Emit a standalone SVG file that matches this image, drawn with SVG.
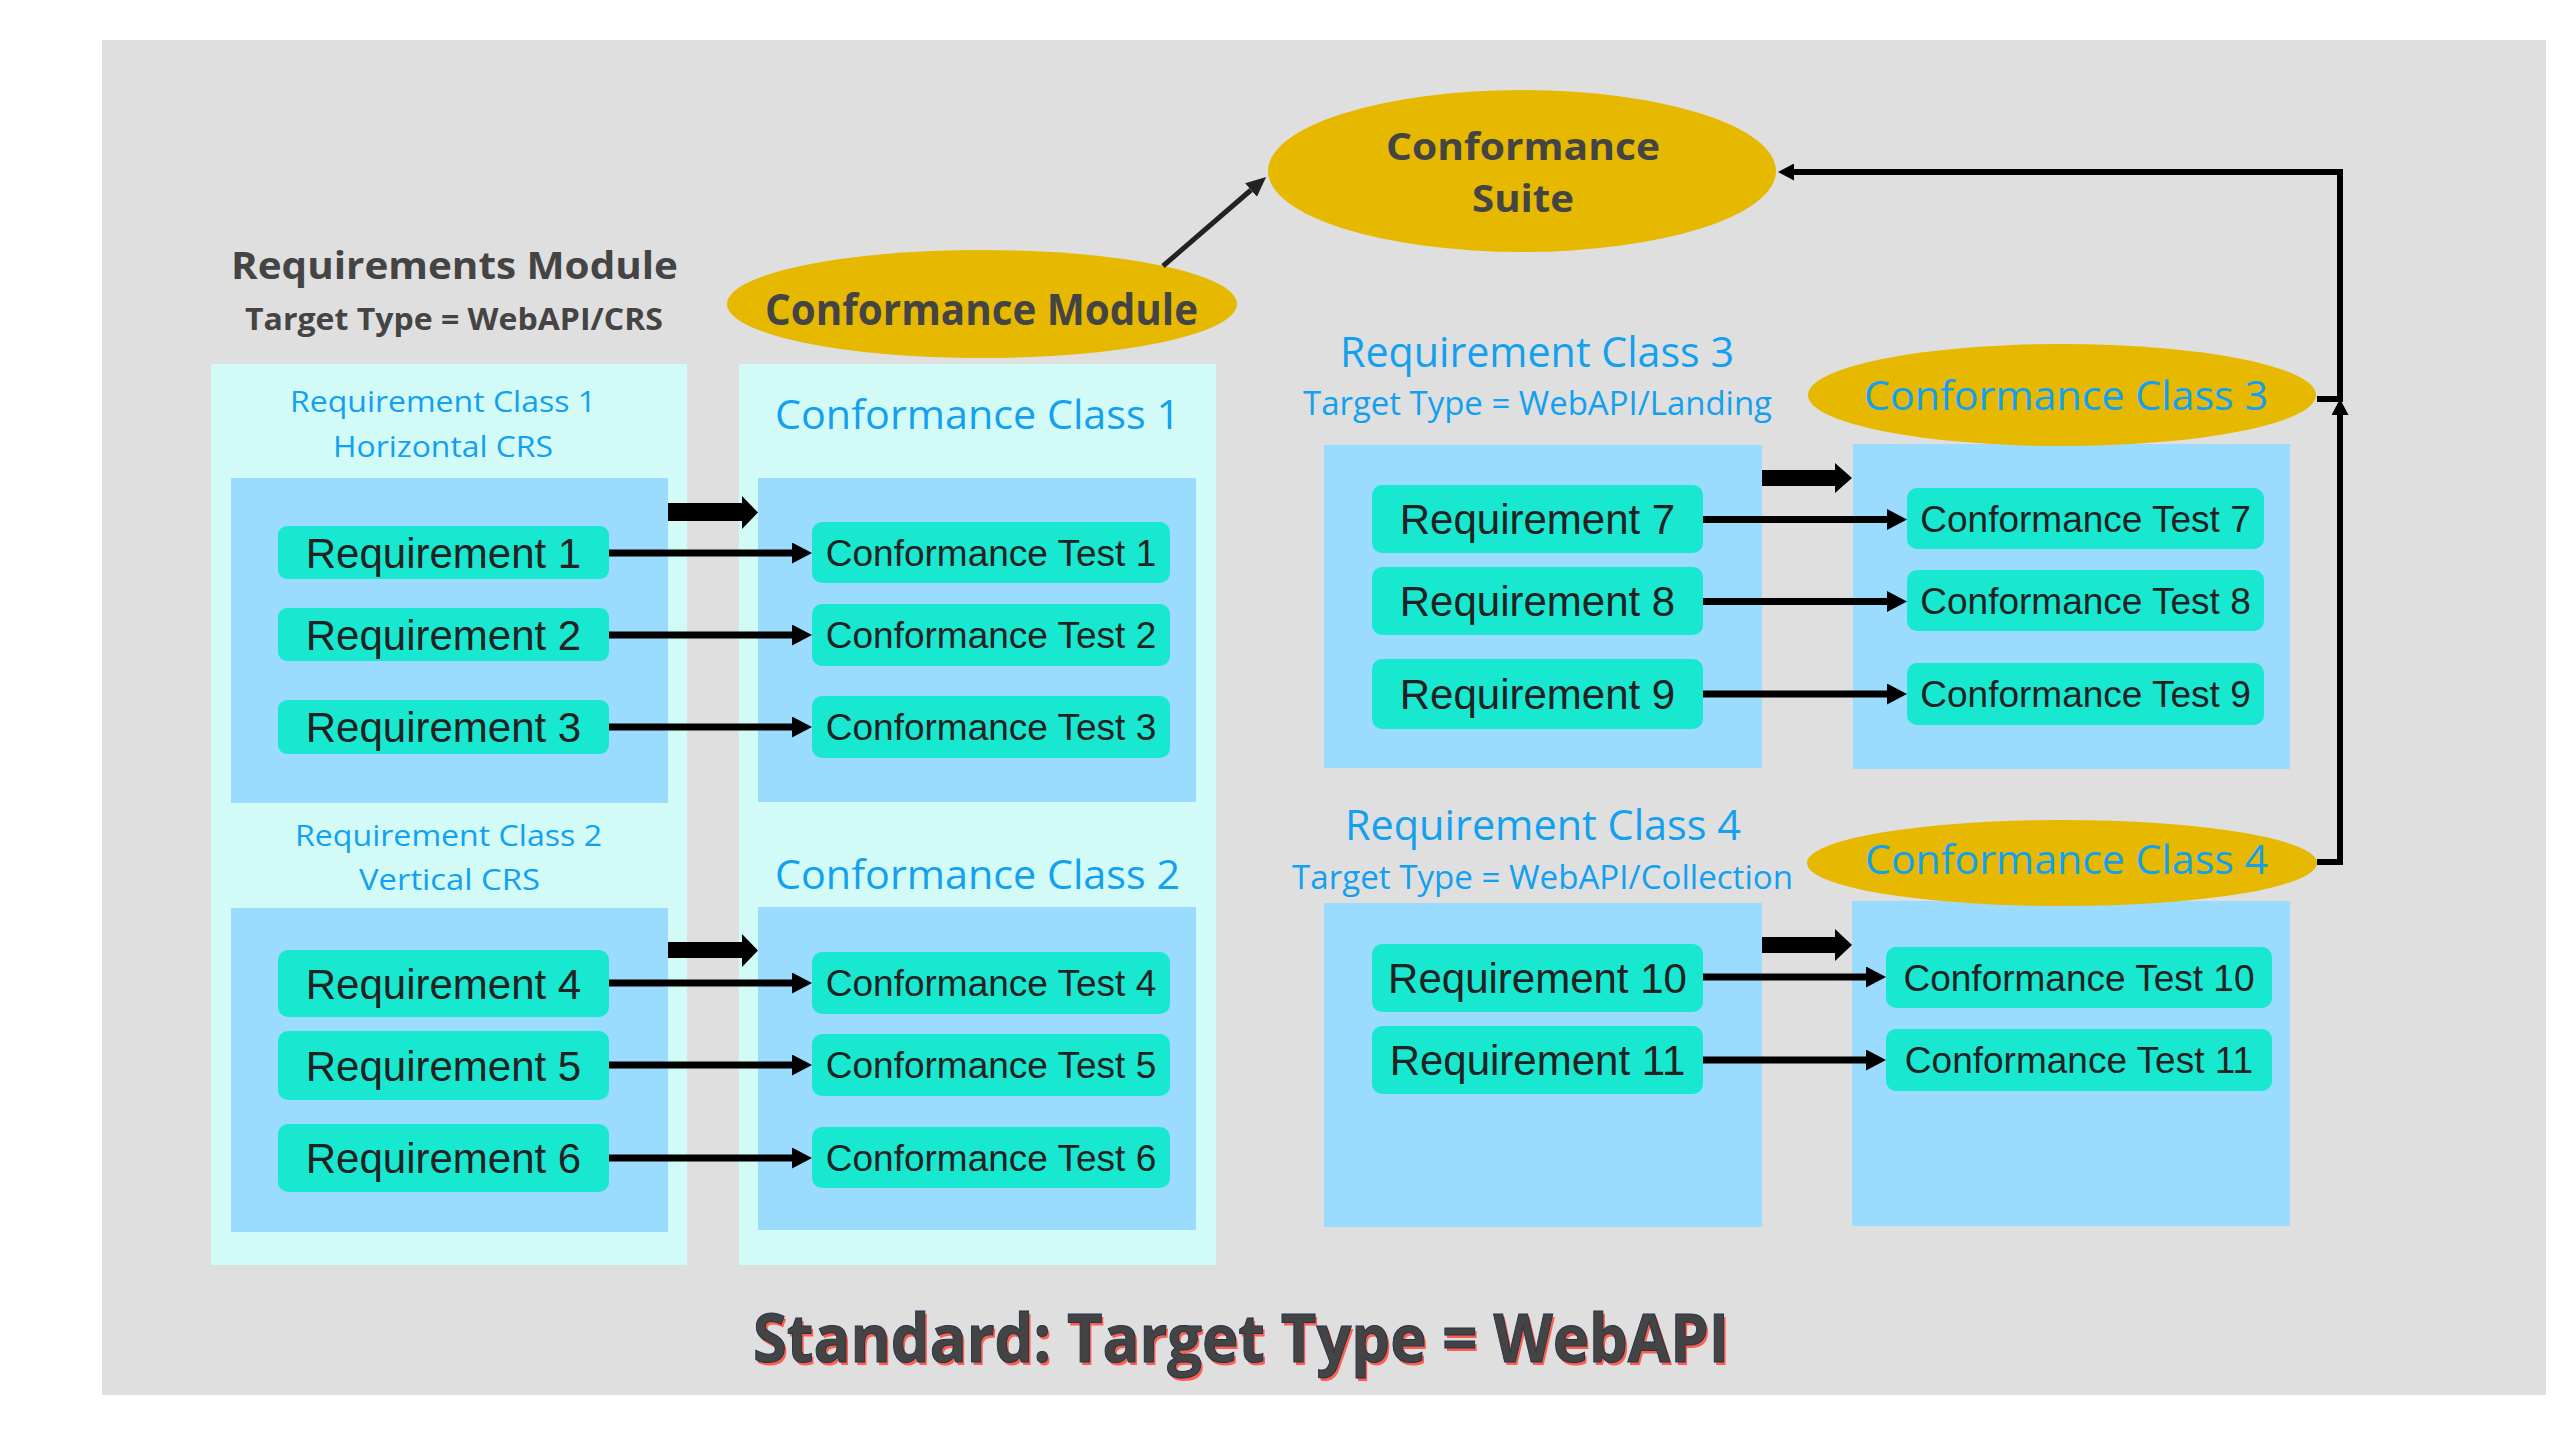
<svg xmlns="http://www.w3.org/2000/svg" width="2560" height="1440" viewBox="0 0 2560 1440">
<defs>
<style>
.bg{fill:#DFDFDF}
.outer{fill:#D2FAF6}
.inner{fill:#9BDBFD}
.box{fill:#17E8CF}
.gold{fill:#E6B900}
.rt{font-family:"Liberation Sans",Arial,sans-serif;font-size:42px;fill:#222;text-anchor:middle}
.ct{font-family:"Liberation Sans",Arial,sans-serif;font-size:37px;fill:#222;text-anchor:middle}
.blue{font-family:"Open Sans","Noto Sans",sans-serif;fill:#12A0F0;text-anchor:middle}
.dk{font-family:"Open Sans","Noto Sans",sans-serif;font-weight:bold;fill:#444;text-anchor:middle}
.ln{stroke:#000;stroke-width:7;fill:none}
.cn{stroke:#000;stroke-width:6;fill:none}
.blk{fill:#000}
</style>
<marker id="ah" markerUnits="userSpaceOnUse" markerWidth="20" markerHeight="21" refX="0" refY="10.5" orient="auto"><path d="M0,0 L20,10.5 L0,21 z" fill="#000"/></marker>
<marker id="ah2" markerUnits="userSpaceOnUse" markerWidth="16" markerHeight="17" refX="0" refY="8.5" orient="auto"><path d="M0,0 L16,8.5 L0,17 z" fill="#000"/></marker>
<marker id="ah3" markerUnits="userSpaceOnUse" markerWidth="20" markerHeight="18" refX="0" refY="9" orient="auto"><path d="M0,0 L20,9 L0,18 z" fill="#222"/></marker>
</defs>
<rect x="0" y="0" width="2560" height="1440" fill="#fff"/>
<rect class="bg" x="102" y="40" width="2444" height="1355"/>

<g id="requirements-module">
<rect class="outer" x="211" y="364" width="476" height="901"/>
<text class="dk" x="454.5" y="279" font-size="38" textLength="447" lengthAdjust="spacingAndGlyphs">Requirements Module</text>
<text class="dk" x="454" y="330" font-size="31" textLength="418" lengthAdjust="spacingAndGlyphs">Target Type = WebAPI/CRS</text>
</g>
<g id="conformance-module-box">
<rect class="outer" x="739" y="364" width="477" height="901"/>
</g>

<g id="requirement-class-1">
<text class="blue" x="443" y="412" font-size="30" textLength="306" lengthAdjust="spacingAndGlyphs">Requirement Class 1</text>
<text class="blue" x="443" y="457" font-size="30" textLength="220" lengthAdjust="spacingAndGlyphs">Horizontal CRS</text>
<rect class="inner" x="231" y="478" width="437" height="325"/>
</g>
<g id="conformance-class-1">
<text class="blue" x="977.5" y="429" font-size="40" textLength="405" lengthAdjust="spacingAndGlyphs">Conformance Class 1</text>
<rect class="inner" x="758" y="478" width="438" height="324"/>
</g>
<g id="requirement-class-2">
<text class="blue" x="448.5" y="846" font-size="30" textLength="307" lengthAdjust="spacingAndGlyphs">Requirement Class 2</text>
<text class="blue" x="449.5" y="890" font-size="30" textLength="181" lengthAdjust="spacingAndGlyphs">Vertical CRS</text>
<rect class="inner" x="231" y="908" width="437" height="324"/>
</g>
<g id="conformance-class-2">
<text class="blue" x="977.5" y="889" font-size="40" textLength="405" lengthAdjust="spacingAndGlyphs">Conformance Class 2</text>
<rect class="inner" x="758" y="907" width="438" height="323"/>
</g>
<g id="requirement-class-3">
<text class="blue" x="1537" y="367" font-size="42" textLength="394" lengthAdjust="spacingAndGlyphs">Requirement Class 3</text>
<text class="blue" x="1537.5" y="415" font-size="32" textLength="469" lengthAdjust="spacingAndGlyphs">Target Type = WebAPI/Landing</text>
<rect class="inner" x="1324" y="445" width="438" height="323"/>
</g>
<g id="conformance-class-3">
<rect class="inner" x="1853" y="444" width="437" height="325"/>
<ellipse class="gold" cx="2062" cy="395" rx="254" ry="51"/>
<text class="blue" x="2066" y="410" font-size="41" textLength="404" lengthAdjust="spacingAndGlyphs">Conformance Class 3</text>
</g>
<g id="requirement-class-4">
<text class="blue" x="1543" y="840" font-size="42" textLength="396" lengthAdjust="spacingAndGlyphs">Requirement Class 4</text>
<text class="blue" x="1542.5" y="889" font-size="32" textLength="501" lengthAdjust="spacingAndGlyphs">Target Type = WebAPI/Collection</text>
<rect class="inner" x="1324" y="903" width="438" height="324"/>
</g>
<g id="conformance-class-4">
<rect class="inner" x="1852" y="901" width="438" height="325"/>
<ellipse class="gold" cx="2062" cy="863" rx="255" ry="43"/>
<text class="blue" x="2066.5" y="874" font-size="41" textLength="403" lengthAdjust="spacingAndGlyphs">Conformance Class 4</text>
</g>

<g id="conformance-module">
<ellipse class="gold" cx="982" cy="304" rx="255" ry="54"/>
<text class="dk" x="981.5" y="325" font-size="43" textLength="433" lengthAdjust="spacingAndGlyphs">Conformance Module</text>
</g>
<g id="conformance-suite">
<ellipse class="gold" cx="1522" cy="171" rx="254" ry="81"/>
<text class="dk" x="1523" y="160" font-size="37" textLength="274" lengthAdjust="spacingAndGlyphs" fill="#505050">Conformance</text>
<text class="dk" x="1523" y="212" font-size="37" textLength="102" lengthAdjust="spacingAndGlyphs" fill="#505050">Suite</text>
</g>

<g id="req1"><rect class="box" x="278" y="526" width="331" height="53" rx="9"/><text class="rt" x="443.5" y="567.5">Requirement 1</text></g>
<g id="req2"><rect class="box" x="278" y="608" width="331" height="53" rx="9"/><text class="rt" x="443.5" y="649.5">Requirement 2</text></g>
<g id="req3"><rect class="box" x="278" y="700" width="331" height="54" rx="9"/><text class="rt" x="443.5" y="742">Requirement 3</text></g>
<g id="req4"><rect class="box" x="278" y="950" width="331" height="67" rx="10"/><text class="rt" x="443.5" y="998.5">Requirement 4</text></g>
<g id="req5"><rect class="box" x="278" y="1031" width="331" height="69" rx="10"/><text class="rt" x="443.5" y="1080.5">Requirement 5</text></g>
<g id="req6"><rect class="box" x="278" y="1124" width="331" height="68" rx="10"/><text class="rt" x="443.5" y="1173">Requirement 6</text></g>

<g id="ct1"><rect class="box" x="812" y="522" width="358" height="61" rx="10"/><text class="ct" x="991" y="565.5">Conformance Test 1</text></g>
<g id="ct2"><rect class="box" x="812" y="604" width="358" height="62" rx="10"/><text class="ct" x="991" y="648">Conformance Test 2</text></g>
<g id="ct3"><rect class="box" x="812" y="696" width="358" height="62" rx="10"/><text class="ct" x="991" y="740">Conformance Test 3</text></g>
<g id="ct4"><rect class="box" x="812" y="952" width="358" height="62" rx="10"/><text class="ct" x="991" y="996">Conformance Test 4</text></g>
<g id="ct5"><rect class="box" x="812" y="1034" width="358" height="62" rx="10"/><text class="ct" x="991" y="1078">Conformance Test 5</text></g>
<g id="ct6"><rect class="box" x="812" y="1127" width="358" height="61" rx="10"/><text class="ct" x="991" y="1170.5">Conformance Test 6</text></g>

<g id="req7"><rect class="box" x="1372" y="485" width="331" height="68" rx="10"/><text class="rt" x="1537.5" y="534">Requirement 7</text></g>
<g id="req8"><rect class="box" x="1372" y="567" width="331" height="68" rx="10"/><text class="rt" x="1537.5" y="616">Requirement 8</text></g>
<g id="req9"><rect class="box" x="1372" y="659" width="331" height="70" rx="10"/><text class="rt" x="1537.5" y="709">Requirement 9</text></g>
<g id="req10"><rect class="box" x="1372" y="944" width="331" height="68" rx="10"/><text class="rt" x="1537.5" y="993">Requirement 10</text></g>
<g id="req11"><rect class="box" x="1372" y="1026" width="331" height="68" rx="10"/><text class="rt" x="1537.5" y="1075">Requirement 11</text></g>

<g id="ct7"><rect class="box" x="1907" y="488" width="357" height="61" rx="10"/><text class="ct" x="2085.5" y="531.5">Conformance Test 7</text></g>
<g id="ct8"><rect class="box" x="1907" y="570" width="357" height="61" rx="10"/><text class="ct" x="2085.5" y="613.5">Conformance Test 8</text></g>
<g id="ct9"><rect class="box" x="1907" y="663" width="357" height="62" rx="10"/><text class="ct" x="2085.5" y="707">Conformance Test 9</text></g>
<g id="ct10"><rect class="box" x="1886" y="947" width="386" height="61" rx="10"/><text class="ct" x="2079" y="990.5">Conformance Test 10</text></g>
<g id="ct11"><rect class="box" x="1886" y="1029" width="386" height="62" rx="10"/><text class="ct" x="2079" y="1073">Conformance Test 11</text></g>

<g id="connectors">
<line class="ln" x1="609" y1="553" x2="792" y2="553" marker-end="url(#ah)"/>
<line class="ln" x1="609" y1="635" x2="792" y2="635" marker-end="url(#ah)"/>
<line class="ln" x1="609" y1="727" x2="792" y2="727" marker-end="url(#ah)"/>
<line class="ln" x1="609" y1="983" x2="792" y2="983" marker-end="url(#ah)"/>
<line class="ln" x1="609" y1="1065" x2="792" y2="1065" marker-end="url(#ah)"/>
<line class="ln" x1="609" y1="1158" x2="792" y2="1158" marker-end="url(#ah)"/>
<line class="ln" x1="1703" y1="519.5" x2="1887" y2="519.5" marker-end="url(#ah)"/>
<line class="ln" x1="1703" y1="601.5" x2="1887" y2="601.5" marker-end="url(#ah)"/>
<line class="ln" x1="1703" y1="694" x2="1887" y2="694" marker-end="url(#ah)"/>
<line class="ln" x1="1703" y1="977" x2="1866" y2="977" marker-end="url(#ah)"/>
<line class="ln" x1="1703" y1="1060" x2="1866" y2="1060" marker-end="url(#ah)"/>
<path class="blk" d="M668,503 H742 V496 L758,512.5 L742,529 V521 H668 z"/>
<path class="blk" d="M668,942 H742 V934 L758,950.5 L742,967 V958 H668 z"/>
<path class="blk" d="M1762,470 H1835 V463 L1852,478 L1835,493 V486 H1762 z"/>
<path class="blk" d="M1762,937 H1835 V929 L1852,945 L1835,961 V953 H1762 z"/>
<line x1="1163" y1="266" x2="1251" y2="190" stroke="#222" stroke-width="5" marker-end="url(#ah3)"/>
<path class="cn" d="M2317,399 H2340 V172 H1794" marker-end="url(#ah2)"/>
<path class="cn" d="M2317,862 H2340 V415" marker-end="url(#ah2)"/>
</g>

<g id="standard-title">
<text x="755" y="1365" font-family="'Open Sans','Noto Sans',sans-serif" font-weight="bold" font-size="66" fill="#FF5E4D" textLength="976" lengthAdjust="spacingAndGlyphs">Standard: Target Type = WebAPI</text>
<text x="753" y="1362" font-family="'Open Sans','Noto Sans',sans-serif" font-weight="bold" font-size="66" fill="#444" stroke="#22344d" stroke-width="1" textLength="976" lengthAdjust="spacingAndGlyphs">Standard: Target Type = WebAPI</text>
</g>
</svg>
